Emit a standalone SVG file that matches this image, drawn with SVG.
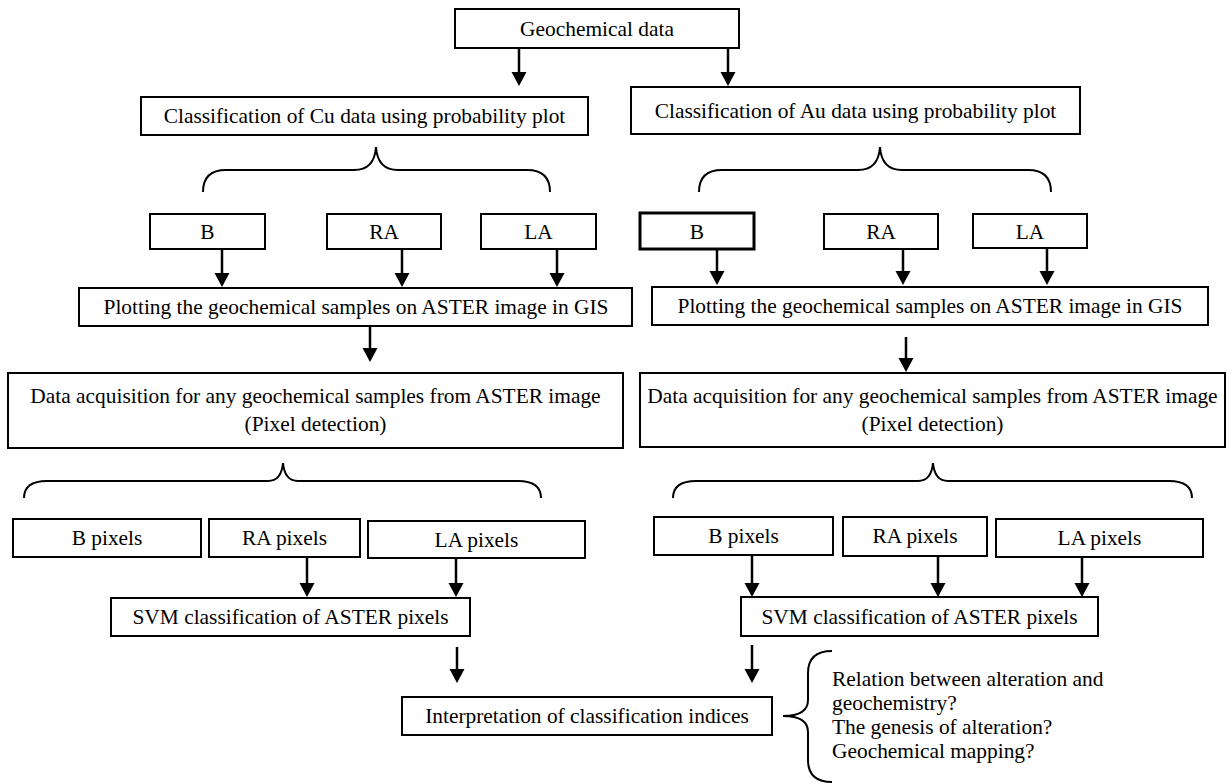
<svg xmlns="http://www.w3.org/2000/svg" width="1229" height="784" viewBox="0 0 1229 784">
<style>
  .box { fill: #fff; stroke: #000; stroke-width: 2; }
  .thick { stroke-width: 3; }
  .t { font-family: "Liberation Serif", "Times New Roman", serif; font-size: 21.4px; fill: #000; text-anchor: middle; }
  .tl { font-family: "Liberation Serif", "Times New Roman", serif; font-size: 21.4px; fill: #000; text-anchor: start; }
  .arr { stroke: #000; stroke-width: 2.5; fill: none; marker-end: url(#ah); }
  .brace { stroke: #000; stroke-width: 2; fill: none; }
</style>
<defs>
  <marker id="ah" markerUnits="userSpaceOnUse" markerWidth="16" markerHeight="16" refX="1" refY="7.5" orient="auto" viewBox="0 0 16 16">
    <path d="M0,0 L14,7.5 L0,15 z" fill="#000"/>
  </marker>
</defs>

<g id="connectors">
  <line class="arr" x1="519" y1="48" x2="519" y2="73"/>
  <line class="arr" x1="728" y1="48" x2="728" y2="73"/>
  <line class="arr" x1="222" y1="249" x2="222" y2="274"/>
  <line class="arr" x1="402" y1="249" x2="402" y2="274"/>
  <line class="arr" x1="557" y1="249" x2="557" y2="274"/>
  <line class="arr" x1="717" y1="249" x2="717" y2="272"/>
  <line class="arr" x1="903" y1="249" x2="903" y2="272"/>
  <line class="arr" x1="1047" y1="248" x2="1047" y2="272"/>
  <line class="arr" x1="370" y1="326" x2="370" y2="349"/>
  <line class="arr" x1="906" y1="337" x2="906" y2="359"/>
  <line class="arr" x1="307" y1="557" x2="307" y2="584"/>
  <line class="arr" x1="456" y1="558" x2="456" y2="584"/>
  <line class="arr" x1="752" y1="555" x2="752" y2="584"/>
  <line class="arr" x1="938" y1="556" x2="938" y2="584"/>
  <line class="arr" x1="1082" y1="557" x2="1082" y2="584"/>
  <line class="arr" x1="457" y1="647" x2="457" y2="670"/>
  <line class="arr" x1="752" y1="645" x2="752" y2="670"/>
  <path class="brace" d="M203,192 C203,177 211,170 226,170 L354,170 C368,170 375,162 376,147 C377,162 384,170 398,170 L527,170 C542,170 550,177 550,192"/>
  <path class="brace" d="M699,192 C699,177 707,170 722,170 L858,170 C872,170 879,162 880,147 C881,162 888,170 902,170 L1028,170 C1043,170 1051,177 1051,192"/>
  <path class="brace" d="M24,498 C24,487 32,481 47,481 L268,481 C278,481 282,474 283,463 C284,474 288,481 298,481 L518,481 C533,481 541,487 541,498"/>
  <path class="brace" d="M673,498 C673,487 681,481 696,481 L918,481 C928,481 932,474 933,463 C934,474 938,481 948,481 L1169,481 C1184,481 1192,487 1192,498"/>
  <path class="brace" d="M832,651 C816,651 808,659 808,673 L808,700 C808,710 800,716 783,716 C800,716 808,722 808,732 L808,760 C808,774 816,782 832,782"/>
</g>

<g id="geochemical-data"><rect class="box" x="455" y="9" width="284" height="39"/><text class="t" x="597" y="35.5">Geochemical data</text></g>

<g id="cu-classification"><rect class="box" x="141" y="97" width="447" height="38"/><text class="t" x="364.5" y="123">Classification of Cu data using probability plot</text></g>
<g id="au-classification"><rect class="box" x="631" y="87" width="449" height="47"/><text class="t" x="855.5" y="118">Classification of Au data using probability plot</text></g>

<g id="cu-b"><rect class="box" x="150" y="214" width="115" height="35"/><text class="t" x="207.5" y="238.5">B</text></g>
<g id="cu-ra"><rect class="box" x="327" y="214" width="114" height="35"/><text class="t" x="384" y="238.5">RA</text></g>
<g id="cu-la"><rect class="box" x="481" y="214" width="115" height="35"/><text class="t" x="538.5" y="238.5">LA</text></g>

<g id="au-b"><rect class="box thick" x="640" y="213" width="114" height="36"/><text class="t" x="697" y="238.5">B</text></g>
<g id="au-ra"><rect class="box" x="824" y="214" width="114" height="35"/><text class="t" x="881" y="238.5">RA</text></g>
<g id="au-la"><rect class="box" x="973" y="214" width="114" height="34"/><text class="t" x="1030" y="238.5">LA</text></g>

<g id="cu-plotting"><rect class="box" x="79" y="288" width="553" height="38"/><text class="t" x="356" y="314">Plotting the geochemical samples on ASTER image in GIS</text></g>
<g id="au-plotting"><rect class="box" x="652" y="287" width="556" height="38"/><text class="t" x="930" y="313">Plotting the geochemical samples on ASTER image in GIS</text></g>

<g id="cu-data-acquisition"><rect class="box" x="8" y="373" width="615" height="75"/><text class="t" x="315.5" y="403">Data acquisition for any geochemical samples from ASTER image</text><text class="t" x="315.5" y="431">(Pixel detection)</text></g>
<g id="au-data-acquisition"><rect class="box" x="640" y="373" width="585" height="74"/><text class="t" x="932.5" y="403">Data acquisition for any geochemical samples from ASTER image</text><text class="t" x="932.5" y="431">(Pixel detection)</text></g>

<g id="cu-b-pixels"><rect class="box" x="13" y="519" width="188" height="38"/><text class="t" x="107" y="545">B pixels</text></g>
<g id="cu-ra-pixels"><rect class="box" x="209" y="519" width="151" height="38"/><text class="t" x="284.5" y="545">RA pixels</text></g>
<g id="cu-la-pixels"><rect class="box" x="368" y="521" width="217" height="37"/><text class="t" x="476.5" y="547">LA pixels</text></g>

<g id="au-b-pixels"><rect class="box" x="654" y="517" width="179" height="38"/><text class="t" x="743.5" y="543">B pixels</text></g>
<g id="au-ra-pixels"><rect class="box" x="843" y="517" width="144" height="39"/><text class="t" x="915" y="543">RA pixels</text></g>
<g id="au-la-pixels"><rect class="box" x="996" y="519" width="207" height="38"/><text class="t" x="1099.5" y="545">LA pixels</text></g>

<g id="cu-svm"><rect class="box" x="111" y="598" width="359" height="38"/><text class="t" x="290.5" y="624">SVM classification of ASTER pixels</text></g>
<g id="au-svm"><rect class="box" x="741" y="597" width="357" height="39"/><text class="t" x="919.5" y="624">SVM classification of ASTER pixels</text></g>

<g id="interpretation"><rect class="box" x="402" y="697" width="370" height="38"/><text class="t" x="587" y="723">Interpretation of classification indices</text></g>

<g id="questions">
  <text class="tl" x="832" y="686">Relation between alteration and</text>
  <text class="tl" x="832" y="710">geochemistry?</text>
  <text class="tl" x="832" y="734">The genesis of alteration?</text>
  <text class="tl" x="832" y="758">Geochemical mapping?</text>
</g>
</svg>
